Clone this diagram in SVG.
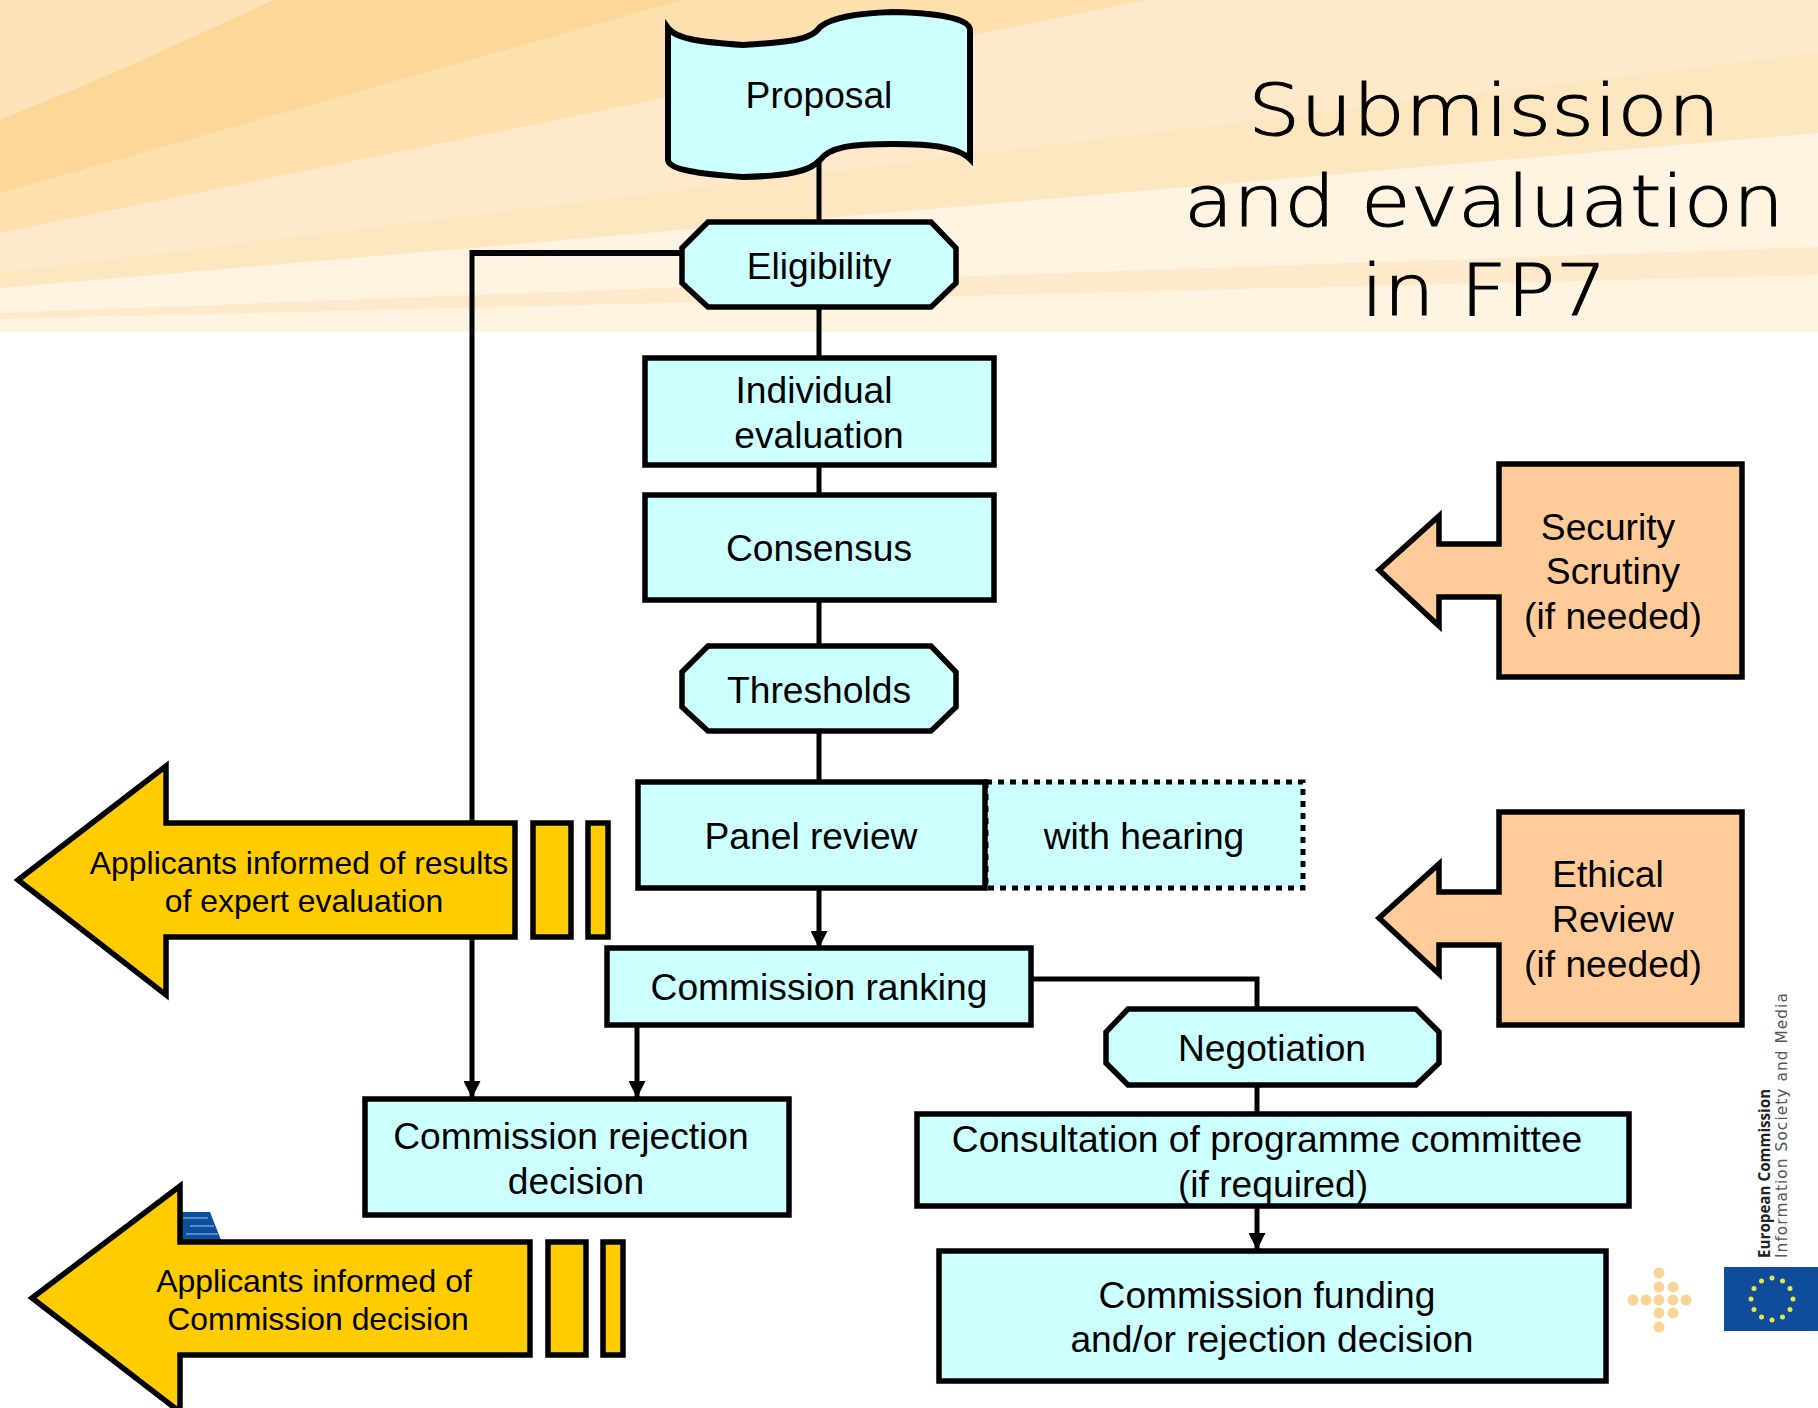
<svg xmlns="http://www.w3.org/2000/svg" width="1818" height="1408" viewBox="0 0 1818 1408">
<style>
text{font-family:"Liberation Sans",Arial,sans-serif;font-size:37.2px;fill:#000;text-anchor:middle}
.y{font-size:31.9px}
.title{font-family:"DejaVu Sans",sans-serif;font-size:72px;font-weight:200;stroke:#000;stroke-width:1}
.c{fill:#ccffff;stroke:#000;stroke-width:5.5;stroke-linejoin:miter;stroke-miterlimit:30}
.o{fill:#ffcc99;stroke:#000;stroke-width:5.5}
.g{fill:#ffcc00;stroke:#000;stroke-width:5.5}
.l{fill:none;stroke:#000;stroke-width:5}
.d{fill:#f9d496}
</style>
<defs>
<marker id="a" markerUnits="userSpaceOnUse" markerWidth="18" markerHeight="17" refX="17" refY="8.500" orient="auto"><path d="M0,0L17,8.500L0,17z" fill="#000"/></marker>
</defs>
<rect width="1818" height="1408" fill="#fff"/>
<g id="background">
<rect width="1818" height="332" fill="#fff4e2"/>
<polygon points="0,272 1000,150 1818,52 1818,133 1000,203 0,288" fill="#fee6c0"/>
<polygon points="0,313 1000,275 1818,247 1818,275 1000,295 0,319" fill="#feeaca"/>
<polygon points="0,0 1818,0 1818,52 1000,150 0,272" fill="#feeacb"/>
<polygon points="0,0 1146,0 0,233" fill="#fde0ae"/>
<polygon points="0,0 682,0 0,193" fill="#fcd898"/>
<polygon points="0,120 120,70 274,0 0,0" fill="#fde3b8"/>
</g>
<g id="connectors">
<path class="l" d="M819,160V222M819,307V358M819,465V495M819,600V646M819,731V782"/>
<path class="l" d="M819,888V948" marker-end="url(#a)"/>
<path class="l" d="M682,253H472" style="stroke-width:6"/>
<path class="l" d="M472,250V1098" marker-end="url(#a)"/>
<path class="l" d="M637,1025V1098" marker-end="url(#a)"/>
<path class="l" d="M1032,979H1257V1009M1257,1085V1114"/>
<path class="l" d="M1257,1206V1250" marker-end="url(#a)"/>
</g>
<g id="proposal"><path class="c" style="stroke-width:6" d="M668,160V28C676,39 700,42 743,45C790,42 812,40 820,27C832,17 860,13 893,12C935,13 970,18 970,30V159C959,148 935,144 893,144C850,144 830,147 820,160C810,172 785,176 743,177C700,174 669,170 668,160Z"/><text x="819" y="108">Proposal</text></g>
<g id="eligibility"><polygon class="c" points="708,222 931,222 956,248 956,283 931,307 708,307 682,283 682,248"/><text x="819" y="279">Eligibility</text></g>
<g id="individual-evaluation"><rect class="c" x="645" y="358" width="349" height="107"/><text x="814" y="403">Individual</text><text x="819" y="448">evaluation</text></g>
<g id="consensus"><rect class="c" x="645" y="495" width="349" height="105"/><text x="819" y="561">Consensus</text></g>
<g id="thresholds"><polygon class="c" points="708,646 931,646 956,672 956,707 931,731 708,731 682,707 682,672"/><text x="819" y="703">Thresholds</text></g>
<g id="with-hearing"><rect x="986" y="782" width="317" height="106" fill="#ccffff" stroke="#000" stroke-width="5" stroke-dasharray="6 6"/><text x="1144" y="849">with hearing</text></g>
<g id="panel-review"><rect class="c" x="638" y="782" width="347" height="106"/><text x="811" y="849">Panel review</text></g>
<g id="commission-ranking"><rect class="c" x="607" y="948" width="424" height="77"/><text x="819" y="1000">Commission ranking</text></g>
<g id="negotiation"><polygon class="c" points="1128,1009 1416,1009 1439,1032 1439,1063 1416,1085 1128,1085 1106,1063 1106,1032"/><text x="1272" y="1061">Negotiation</text></g>
<g id="rejection"><rect class="c" x="365" y="1099" width="424" height="116"/><text x="571" y="1149">Commission rejection</text><text x="576" y="1194">decision</text></g>
<g id="consultation"><rect class="c" x="917" y="1114" width="712" height="92"/><text x="1267" y="1152">Consultation of programme committee</text><text x="1273" y="1197">(if required)</text></g>
<g id="funding"><rect class="c" x="939" y="1251" width="667" height="130"/><text x="1267" y="1308">Commission funding</text><text x="1272" y="1352">and/or rejection decision</text></g>
<g id="security"><polygon class="o" points="1499,464 1742,464 1742,677 1499,677 1499,597 1439,597 1439,626 1379,570 1439,516 1439,544 1499,544"/><text x="1608" y="540">Security</text><text x="1613" y="584">Scrutiny</text><text x="1613" y="629">(if needed)</text></g>
<g id="ethical"><polygon class="o" points="1499,812 1742,812 1742,1025 1499,1025 1499,945 1439,945 1439,974 1379,918 1439,864 1439,892 1499,892"/><text x="1608" y="887">Ethical</text><text x="1613" y="932">Review</text><text x="1613" y="977">(if needed)</text></g>
<g id="informed-results"><polygon class="g" points="166,766 166,823 515,823 515,937 166,937 166,995 18,880"/><rect class="g" x="533" y="823" width="38" height="114"/><rect class="g" x="588" y="823" width="20" height="114"/><text class="y" x="299" y="874">Applicants informed of results</text><text class="y" x="304" y="912">of expert evaluation</text></g>
<g id="blue-mark" fill="#0b4f9e"><polygon points="180,1212 210,1212 221,1240 180,1240"/><path d="M183,1218H208M190,1226H214M186,1234H218" stroke="#6f9fd8" stroke-width="1.500"/></g>
<g id="informed-decision"><polygon class="g" points="180,1186 180,1242 530,1242 530,1355 180,1355 180,1412 32,1298"/><rect class="g" x="548" y="1242" width="38" height="113"/><rect class="g" x="603" y="1242" width="20" height="113"/><text class="y" x="314" y="1292">Applicants informed of</text><text class="y" x="318" y="1330">Commission decision</text></g>
<g id="title"><text class="title" x="1484" y="135" textLength="472" lengthAdjust="spacingAndGlyphs">Submission</text><text class="title" x="1484" y="226" textLength="600" lengthAdjust="spacingAndGlyphs">and evaluation</text><text class="title" x="1484" y="315" textLength="246" lengthAdjust="spacingAndGlyphs">in FP7</text></g>
<g id="logo">
<g class="d"><circle cx="1659" cy="1273" r="5.500"/><circle cx="1659" cy="1287" r="5.500"/><circle cx="1673" cy="1287" r="5.500"/><circle cx="1633" cy="1300" r="5.500"/><circle cx="1646" cy="1300" r="5.500"/><circle cx="1659" cy="1300" r="5.500"/><circle cx="1673" cy="1300" r="5.500"/><circle cx="1686" cy="1300" r="5.500"/><circle cx="1659" cy="1313" r="5.500"/><circle cx="1673" cy="1313" r="5.500"/><circle cx="1659" cy="1327" r="5.500"/></g>
<rect x="1724" y="1267" width="94" height="64" fill="#0f4c9c"/>
<g fill="#e8e840"><circle cx="1772" cy="1278" r="2.500"/><circle cx="1782.500" cy="1281" r="2.500"/><circle cx="1790" cy="1288.500" r="2.500"/><circle cx="1793" cy="1299" r="2.500"/><circle cx="1790" cy="1309.500" r="2.500"/><circle cx="1782.500" cy="1317" r="2.500"/><circle cx="1772" cy="1320" r="2.500"/><circle cx="1761.500" cy="1317" r="2.500"/><circle cx="1754" cy="1309.500" r="2.500"/><circle cx="1751" cy="1299" r="2.500"/><circle cx="1754" cy="1288.500" r="2.500"/><circle cx="1761.500" cy="1281" r="2.500"/></g>
<text transform="translate(1770,1258) rotate(-90)" style="font-family:'Open Sans','DejaVu Sans',sans-serif;font-size:15.2px;font-weight:700;text-anchor:start;fill:#222">European Commission</text>
<text transform="translate(1787,1258) rotate(-90)" style="font-family:'DejaVu Sans',sans-serif;font-size:15.4px;letter-spacing:1.050px;text-anchor:start;fill:#555">Information Society and Media</text>
</g>
</svg>
